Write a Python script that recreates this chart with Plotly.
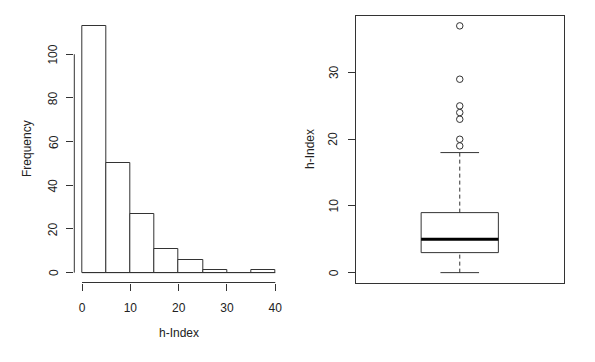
import plotly.graph_objects as go

# ---- data ----
bin_edges = [0, 5, 10, 15, 20, 25, 30, 35, 40]
counts = [113, 50, 27, 11, 6, 1, 0, 1]
hist_xticks = [0, 10, 20, 30, 40]
hist_yticks = [0, 20, 40, 60, 80, 100]

box_lower = 0
box_q1 = 3
box_median = 5
box_q3 = 9
box_upper = 18
outliers = [19, 20, 23, 24, 25, 29, 37]
box_yticks = [0, 10, 20, 30]

LINE = "#333333"
FONT = dict(family="Liberation Sans, Arial, sans-serif", size=12, color="#222222")

W, H = 595, 362
def px(x): return x / W
def py(y): return 1 - y / H

fig = go.Figure()

# histogram bars
centers = [(a + b) / 2 for a, b in zip(bin_edges[:-1], bin_edges[1:])]
widths = [b - a for a, b in zip(bin_edges[:-1], bin_edges[1:])]
fig.add_trace(go.Bar(x=centers, y=counts, width=widths, base=0,
                     marker=dict(color="white", line=dict(color=LINE, width=1)),
                     xaxis="x", yaxis="y", showlegend=False, hoverinfo="skip"))
# baseline (covers zero-count bins)
fig.add_trace(go.Scatter(x=[bin_edges[0], bin_edges[-1]], y=[0, 0], mode="lines",
                         line=dict(color=LINE, width=1), xaxis="x", yaxis="y",
                         showlegend=False, hoverinfo="skip"))

# boxplot drawn in R style
c, hw, cw = 1.0, 0.2, 0.1
fig.add_trace(go.Scatter(x=[c - hw, c + hw, c + hw, c - hw, c - hw],
                         y=[box_q1, box_q1, box_q3, box_q3, box_q1], mode="lines",
                         line=dict(color=LINE, width=1), xaxis="x2", yaxis="y2", showlegend=False))
fig.add_trace(go.Scatter(x=[c - hw, c + hw], y=[box_median, box_median], mode="lines",
                         line=dict(color="black", width=3), xaxis="x2", yaxis="y2", showlegend=False))
for a, b in [(box_q3, box_upper), (box_lower, box_q1)]:
    fig.add_trace(go.Scatter(x=[c, c], y=[a, b], mode="lines",
                             line=dict(color=LINE, width=1, dash="4px,3px"),
                             xaxis="x2", yaxis="y2", showlegend=False))
for v in [box_upper, box_lower]:
    fig.add_trace(go.Scatter(x=[c - cw, c + cw], y=[v, v], mode="lines",
                             line=dict(color=LINE, width=1), xaxis="x2", yaxis="y2", showlegend=False))
fig.add_trace(go.Scatter(x=[c] * len(outliers), y=outliers, mode="markers",
                         marker=dict(symbol="circle-open", size=6.5, color=LINE, line=dict(width=1)),
                         xaxis="x2", yaxis="y2", showlegend=False))

ydom = [py(282.5), py(16)]
axis_common = dict(showgrid=False, zeroline=False, ticks="outside", ticklen=7,
                   tickcolor=LINE, tickfont=FONT)

fig.update_layout(
    width=W, height=H, margin=dict(l=0, r=0, t=0, b=0),
    paper_bgcolor="white", plot_bgcolor="white", bargap=0,
    xaxis=dict(domain=[px(74.3), px(283)], range=[-1.6, 41.6], tickvals=hist_xticks,
               showline=False, ticklabelstandoff=7, **axis_common),
    yaxis=dict(domain=ydom, range=[-4.52, 117.52], tickvals=hist_yticks,
               showticklabels=False, showline=False, **axis_common),
    xaxis2=dict(domain=[px(355.5), px(564)], range=[0.46, 1.54], showticklabels=False,
                showgrid=False, zeroline=False, ticks="", showline=True, mirror=True,
                linecolor=LINE, linewidth=1, anchor="y2"),
    yaxis2=dict(domain=ydom, range=[-1.48, 38.48], tickvals=box_yticks, showticklabels=False,
                showline=True, mirror=True, linecolor=LINE, linewidth=1, anchor="x2",
                **axis_common),
)

# R-style axis lines spanning first to last tick
fig.add_shape(type="line", xref="x", yref="y domain", x0=hist_xticks[0], x1=hist_xticks[-1],
              y0=0, y1=0, line=dict(color=LINE, width=1))
fig.add_shape(type="line", xref="x domain", yref="y", x0=0, x1=0,
              y0=hist_yticks[0], y1=hist_yticks[-1], line=dict(color=LINE, width=1))

# rotated y tick labels (R las=0 style)
for v in hist_yticks:
    fig.add_annotation(text=str(v), x=px(53.3), y=v, xref="paper", yref="y", textangle=-90,
                       xanchor="center", yanchor="middle", showarrow=False, font=FONT)
for v in box_yticks:
    fig.add_annotation(text=str(v), x=px(333.5), y=v, xref="paper", yref="y2", textangle=-90,
                       xanchor="center", yanchor="middle", showarrow=False, font=FONT)

# axis titles
fig.add_annotation(text="Frequency", x=px(27), y=py(149), xref="paper", yref="paper",
                   textangle=-90, xanchor="center", yanchor="middle", showarrow=False, font=FONT)
fig.add_annotation(text="h-Index", x=px(178.5), y=py(333), xref="paper", yref="paper",
                   xanchor="center", yanchor="middle", showarrow=False, font=FONT)
fig.add_annotation(text="h-Index", x=px(310), y=py(149), xref="paper", yref="paper",
                   textangle=-90, xanchor="center", yanchor="middle", showarrow=False, font=FONT)

fig.write_html("out.html", config={"displayModeBar": False},
               post_script="document.body.style.margin='0';")
